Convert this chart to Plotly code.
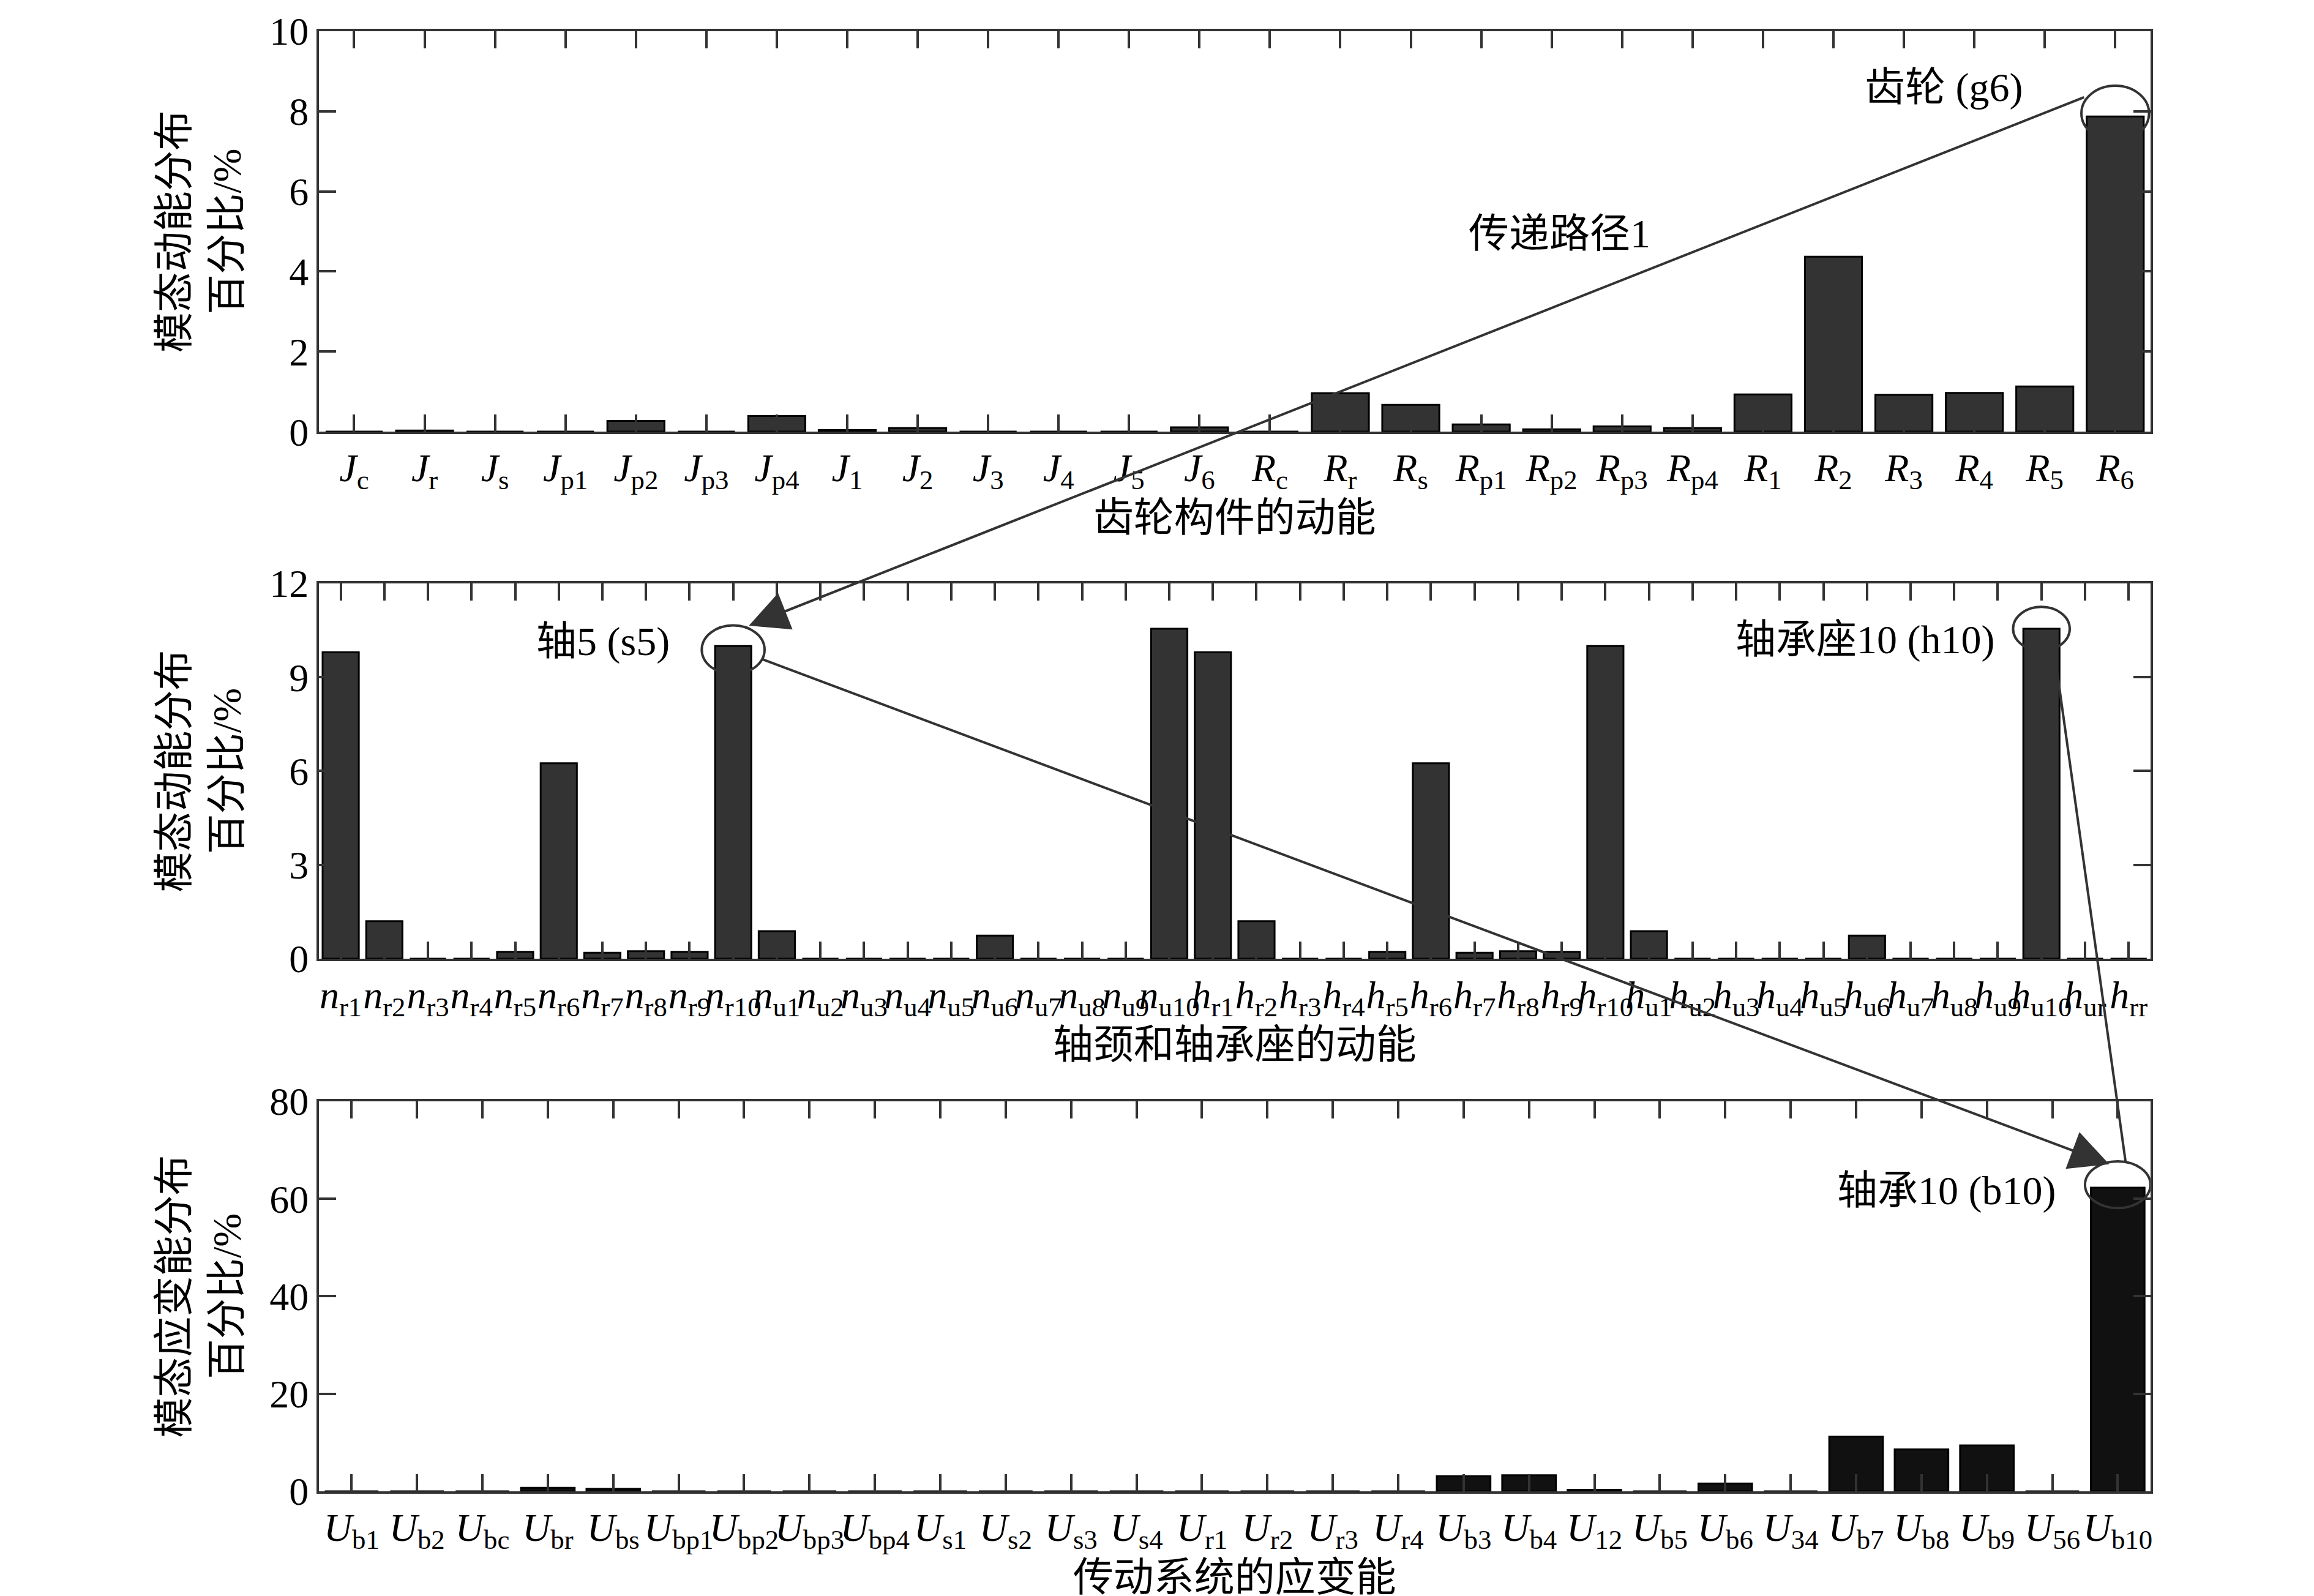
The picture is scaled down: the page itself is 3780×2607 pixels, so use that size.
import plotly.graph_objects as go

W, H = 3780, 2607
FONT = "Liberation Serif, Noto Sans CJK SC"
LINE = "#333333"

# ---- data ----
gear_base = ["J"] * 13 + ["R"] * 13
gear_sub = ["c", "r", "s", "p1", "p2", "p3", "p4", "1", "2", "3", "4", "5", "6"] * 2
gear_val = [0, 0.03, 0, 0, 0.27, 0, 0.39, 0.04, 0.09, 0, 0, 0, 0.11,
            0, 0.96, 0.67, 0.18, 0.06, 0.13, 0.09, 0.93, 4.37, 0.92, 0.97, 1.13, 7.87]

shaft_base = ["n"] * 20 + ["h"] * 22
shaft_sub = (["r%d" % i for i in range(1, 11)] + ["u%d" % i for i in range(1, 11)]) * 2 + ["ur", "rr"]
shaft_val = [9.8, 1.2, 0, 0, 0.22, 6.25, 0.19, 0.24, 0.22, 10.0,
             0.88, 0, 0, 0, 0, 0.74, 0, 0, 0, 10.55,
             9.8, 1.2, 0, 0, 0.22, 6.25, 0.19, 0.24, 0.22, 10.0,
             0.88, 0, 0, 0, 0, 0.74, 0, 0, 0, 10.55,
             0, 0]

strain_sub = ["b1", "b2", "bc", "br", "bs", "bp1", "bp2", "bp3", "bp4",
              "s1", "s2", "s3", "s4", "r1", "r2", "r3", "r4",
              "b3", "b4", "12", "b5", "b6", "34", "b7", "b8", "b9", "56", "b10"]
strain_val = [0, 0, 0, 0.7, 0.5, 0, 0, 0, 0,
              0, 0, 0, 0, 0, 0, 0, 0,
              3.1, 3.3, 0.3, 0, 1.6, 0, 11.2, 8.6, 9.4, 0, 62.3]


def lab(b, s):
    return "<i>%s</i><sub>%s</sub>" % (b, s)


gear_lab = [lab(b, s) for b, s in zip(gear_base, gear_sub)]
shaft_lab = [lab(b, s) for b, s in zip(shaft_base, shaft_sub)]
strain_lab = [lab("U", s) for s in strain_sub]

panels = [
    dict(labels=gear_lab, vals=gear_val, ymax=10, dtick=2, dom=[0.7326, 0.9835],
         color="#333333", width=0.81, xtitle="齿轮构件的动能", ytitle="模态动能分布<br>百分比/%"),
    dict(labels=shaft_lab, vals=shaft_val, ymax=12, dtick=3, dom=[0.4024, 0.6375],
         color="#333333", width=0.83, xtitle="轴颈和轴承座的动能", ytitle="模态动能分布<br>百分比/%"),
    dict(labels=strain_lab, vals=strain_val, ymax=80, dtick=20, dom=[0.0687, 0.3130],
         color="#111111", width=0.82, xtitle="传动系统的应变能", ytitle="模态应变能分布<br>百分比/%"),
]
XDOM = [0.1357, 0.9272]

fig = go.Figure()
for i, p in enumerate(panels):
    k = "" if i == 0 else str(i + 1)
    fig.add_trace(go.Bar(x=p["labels"], y=p["vals"], width=p["width"],
                         marker=dict(color=p["color"], line=dict(color="black", width=3)),
                         xaxis="x" + k, yaxis="y" + k, showlegend=False))
    axis = dict(showline=True, linecolor=LINE, linewidth=4, mirror="ticks",
                ticks="inside", ticklen=28, tickwidth=4, tickcolor=LINE,
                showgrid=False, zeroline=False, automargin=False,
                tickfont=dict(family=FONT, size=64, color="black"))
    fig.layout["xaxis" + k] = dict(axis, domain=XDOM, anchor="y" + k, type="category",
                                   range=[-0.5, len(p["labels"]) - 0.5],
                                   tickmode="array", tickvals=p["labels"], tickangle=0,
                                   title=dict(text=p["xtitle"], standoff=10,
                                              font=dict(family=FONT, size=66, color="black")))
    fig.layout["yaxis" + k] = dict(axis, domain=p["dom"], anchor="x" + k,
                                   range=[0, p["ymax"]], dtick=p["dtick"], tick0=0,
                                   title=dict(text=p["ytitle"], standoff=26,
                                              font=dict(family=FONT, size=66, color="black")))


def paper(i, x, y):
    p = panels[i]
    n = len(p["labels"])
    px = XDOM[0] + (x + 0.5) / n * (XDOM[1] - XDOM[0])
    py = p["dom"][0] + y / p["ymax"] * (p["dom"][1] - p["dom"][0])
    return px, py


# ellipses round the marked bars: (panel, centre x, centre y, half width, half height)
rings = [(0, 25, 7.95, 0.48, 0.69), (1, 9, 9.88, 0.72, 0.78),
         (1, 39, 10.55, 0.65, 0.70), (2, 27, 62.9, 0.5, 4.8)]
for i, cx, cy, rx, ry in rings:
    k = "" if i == 0 else str(i + 1)
    fig.add_shape(type="circle", xref="x" + k, yref="y" + k,
                  x0=cx - rx, x1=cx + rx, y0=cy - ry, y1=cy + ry,
                  line=dict(color=LINE, width=4))

# path arrows: (tail panel, x, y) -> (tip panel, x, y)
arrows = [((0, 24.57, 8.36), (1, 9.36, 10.65)),
          ((1, 9.64, 9.59), (2, 26.87, 67.1))]
for tail, tip in arrows:
    tx, ty = paper(*tail)
    hx, hy = paper(*tip)
    fig.add_annotation(x=hx, y=hy, xref="paper", yref="paper", text="",
                       showarrow=True, arrowhead=2, arrowsize=3.2, arrowwidth=4,
                       arrowcolor=LINE, ax=(tx - hx) * W, ay=(hy - ty) * H)

x0, y0 = paper(1, 39.3, 9.78)
x1, y1 = paper(2, 27.12, 67.6)
fig.add_shape(type="line", xref="paper", yref="paper", x0=x0, y0=y0, x1=x1, y1=y1,
              line=dict(color=LINE, width=4))

notes = [(0, 22.56, 8.59, "齿轮 (g6)"), (0, 17.11, 4.95, "传递路径1"),
         (1, 6.02, 10.14, "轴5 (s5)"), (1, 34.96, 10.2, "轴承座10 (h10)"),
         (2, 24.38, 61.7, "轴承10 (b10)")]
for i, x, y, t in notes:
    k = "" if i == 0 else str(i + 1)
    fig.add_annotation(x=x, y=y, xref="x" + k, yref="y" + k, text=t, showarrow=False,
                       font=dict(family=FONT, size=66, color="black"))

fig.update_layout(template="none", width=W, height=H,
                  margin=dict(l=0, r=0, t=0, b=0),
                  paper_bgcolor="white", plot_bgcolor="white",
                  bargap=0.2, font=dict(family=FONT))

fig.write_html("out.html")
